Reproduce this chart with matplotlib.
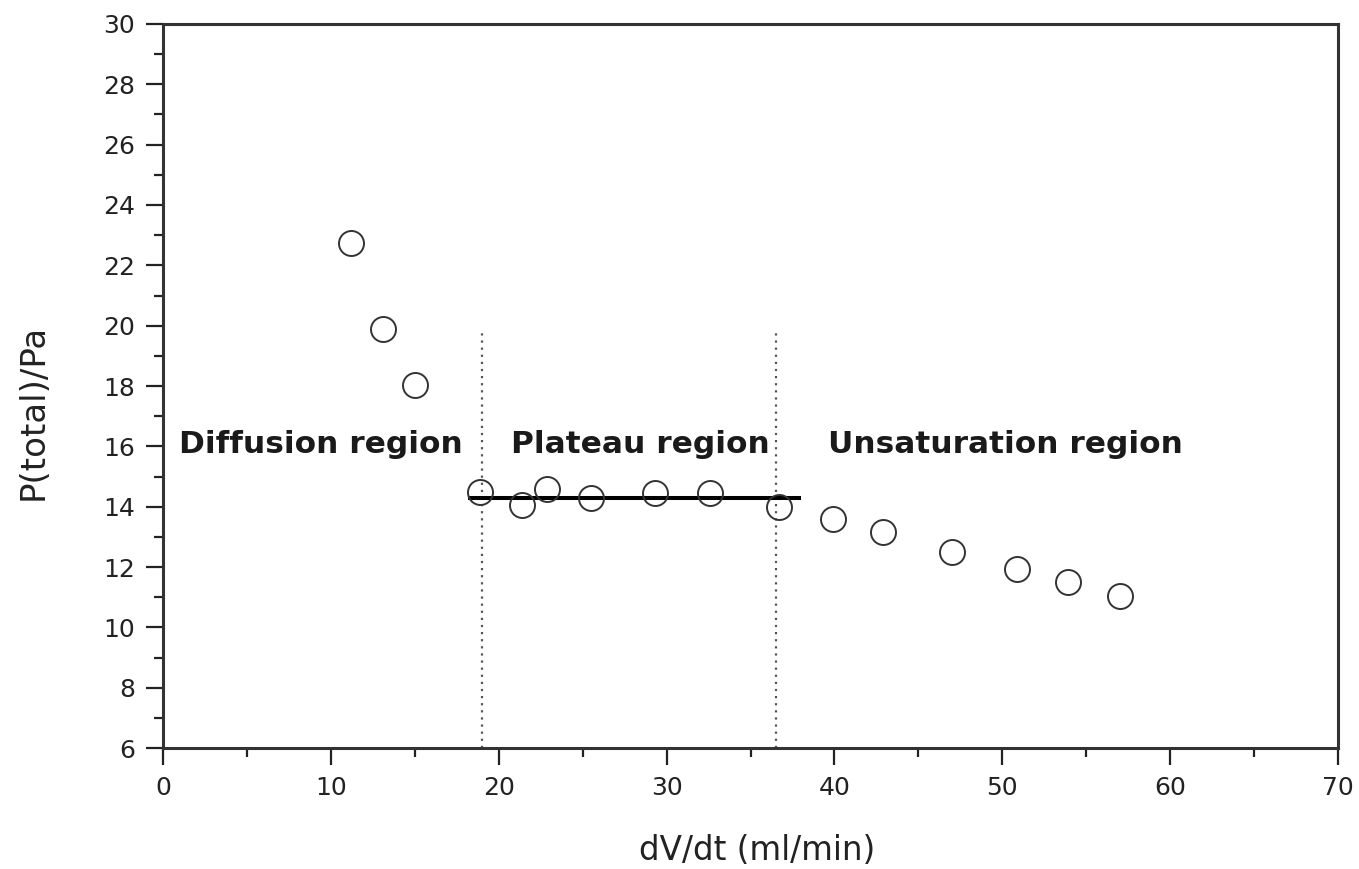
import matplotlib
matplotlib.use("Agg")
import matplotlib.pyplot as plt
from matplotlib.ticker import MultipleLocator

plt.rcParams['font.family'] = ['DejaVu Sans']

flow = [11.2, 13.1, 15.0, 18.9, 21.4, 22.9, 25.5, 29.3, 32.6, 36.7, 39.9, 42.9, 47.0, 50.9, 53.9, 57.0]
pressure = [22.75, 19.9, 18.05, 14.5, 14.05, 14.6, 14.3, 14.45, 14.45, 14.0, 13.6, 13.15, 12.5, 11.95, 11.5, 11.05]

plateau_x = [18.3, 37.9]
plateau_y = [14.3, 14.3]
boundaries = [19.0, 36.5]
boundary_top = 19.8

regions = ["Diffusion region", "Plateau region", "Unsaturation region"]
region_x = [0.95, 20.7, 39.6]
region_y = 16.05

fig = plt.figure(figsize=(13.59, 8.69), dpi=100)
ax = fig.add_axes([0.12, 0.139, 0.8645, 0.8335])

for b in boundaries:
    ax.plot([b, b], [6, boundary_top], linestyle=(0, (1, 2.2)), color='#555555', lw=1.6)

ax.plot(plateau_x, plateau_y, color='black', lw=2.9)
ax.plot(flow, pressure, linestyle='none', marker='o', markersize=18,
        markerfacecolor='none', markeredgecolor='#333333', markeredgewidth=1.4)

for t, x in zip(regions, region_x):
    ax.text(x, region_y, t, fontsize=22.5, fontweight='bold', ha='left', va='center', color='#1a1a1a')

ax.set_xlim(0, 70)
ax.set_ylim(6, 30)
ax.xaxis.set_major_locator(MultipleLocator(10))
ax.xaxis.set_minor_locator(MultipleLocator(5))
ax.yaxis.set_major_locator(MultipleLocator(2))
ax.yaxis.set_minor_locator(MultipleLocator(1))
ax.tick_params(which='major', direction='out', length=12, width=1.6, labelsize=18,
               colors='#222222', pad=8)
ax.tick_params(which='minor', direction='out', length=6.5, width=1.6, colors='#222222')
for s in ax.spines.values():
    s.set_linewidth(2.2)
    s.set_color('#333333')

ax.set_xlabel("dV/dt (ml/min)", fontsize=23.5, color='#222222')
ax.set_ylabel("P(total)/Pa", fontsize=24.5, color='#222222')
ax.xaxis.set_label_coords(0.5055, -0.1409)
ax.xaxis.label.set_va('center')
ax.yaxis.set_label_coords(-0.1102, 0.464)
ax.yaxis.label.set_va('center')
ax.yaxis.label.set_ha('center')

fig.savefig("out.png", dpi=100)
